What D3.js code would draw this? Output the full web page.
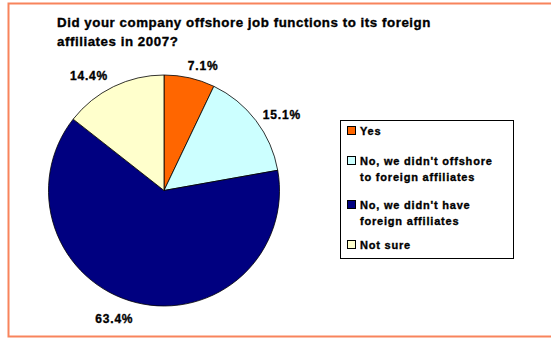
<!DOCTYPE html>
<html>
<head>
<meta charset="utf-8">
<script src="https://cdn.jsdelivr.net/npm/d3@7"></script>
<style>
  html, body { margin: 0; padding: 0; background: #fff; }
  svg { display: block; }
  svg text { font-family: "Liberation Sans", Arial, sans-serif; font-weight: 700;
             stroke: #000; stroke-width: 0.35px; paint-order: stroke; }
</style>
</head>
<body>
<svg id="chart" width="551" height="338"></svg>
<script>
// Survey answers, in the order they are drawn clockwise from 12 o'clock
const categories = [
  "Yes",
  "No, we didn't offshore to foreign affiliates",
  "No, we didn't have foreign affiliates",
  "Not sure"
];
const legendLines = [
  ["Yes"],
  ["No, we didn't offshore", "to foreign affiliates"],
  ["No, we didn't have", "foreign affiliates"],
  ["Not sure"]
];
const shares = [7.1, 15.1, 63.4, 14.4];
const colors = ["#ff6600", "#ccffff", "#000080", "#ffffcc"];
const titleLines = [
  "Did your company offshore job functions to its foreign",
  "affiliates in 2007?"
];

const svg = d3.select("#chart");

// Outer frame
svg.append("rect")
  .attr("x", 8.5).attr("y", 3.5)
  .attr("width", 560).attr("height", 333)
  .attr("fill", "none")
  .attr("stroke", "#f8845c")
  .attr("stroke-width", 2);

// Title
svg.append("text")
  .attr("x", 57).attr("y", 27)
  .attr("font-size", 13.3)
  .attr("letter-spacing", 0.55)
  .attr("fill", "#000")
  .selectAll("tspan")
  .data(titleLines)
  .join("tspan")
  .attr("x", 57)
  .attr("dy", (d, i) => i === 0 ? 0 : 18.5)
  .text(d => d);

// Pie
const cx = 164, cy = 190.5, r = 115.5;
const pie = d3.pie().sort(null).value(d => d)(shares);
const arc = d3.arc().innerRadius(0).outerRadius(r);
const g = svg.append("g").attr("transform", `translate(${cx},${cy})`);

g.selectAll("path")
  .data(pie)
  .join("path")
  .attr("d", arc)
  .attr("fill", (d, i) => colors[i])
  .attr("stroke", "#000")
  .attr("stroke-width", 0.8)
  .attr("stroke-linejoin", "round");

// Percentage labels, anchored just outside the rim at each slice's mid angle
const labelR = r + 15;
g.selectAll("text.pct")
  .data(pie)
  .join("text")
  .attr("class", "pct")
  .each(function(d) {
    const a = (d.startAngle + d.endAngle) / 2;
    const s = Math.sin(a), c = Math.cos(a);
    const px = s * labelR, py = -c * labelR;
    d3.select(this)
      .attr("x", s >= 0 ? px - 5 : px + 1)
      .attr("y", py + (c >= 0 ? 3 : 1.5))
      .attr("text-anchor", s >= 0 ? "start" : "end");
  })
  .attr("dominant-baseline", "central")
  .attr("font-size", 12)
  .attr("letter-spacing", 0.8)
  .attr("fill", "#000")
  .text(d => d3.format(".1f")(d.data) + "%");

// Legend
const legend = svg.append("g");
legend.append("rect")
  .attr("x", 340.5).attr("y", 120.5)
  .attr("width", 173).attr("height", 138)
  .attr("fill", "#fff")
  .attr("stroke", "#000")
  .attr("stroke-width", 1);

const entryTop = [135, 165, 209, 249];
const items = legend.selectAll("g.item")
  .data(categories)
  .join("g")
  .attr("class", "item")
  .attr("transform", (d, i) => `translate(0,${entryTop[i]})`);

items.append("rect")
  .attr("x", 347.5).attr("y", -8.5)
  .attr("width", 8).attr("height", 8)
  .attr("fill", (d, i) => colors[i])
  .attr("stroke", "#000")
  .attr("stroke-width", 1);

items.append("text")
  .attr("font-size", 11)
  .attr("letter-spacing", 0.8)
  .attr("fill", "#000")
  .selectAll("tspan")
  .data((d, i) => legendLines[i])
  .join("tspan")
  .attr("x", 360)
  .attr("dy", (d, j) => j === 0 ? 0 : 15.5)
  .text(d => d);
</script>
</body>
</html>
